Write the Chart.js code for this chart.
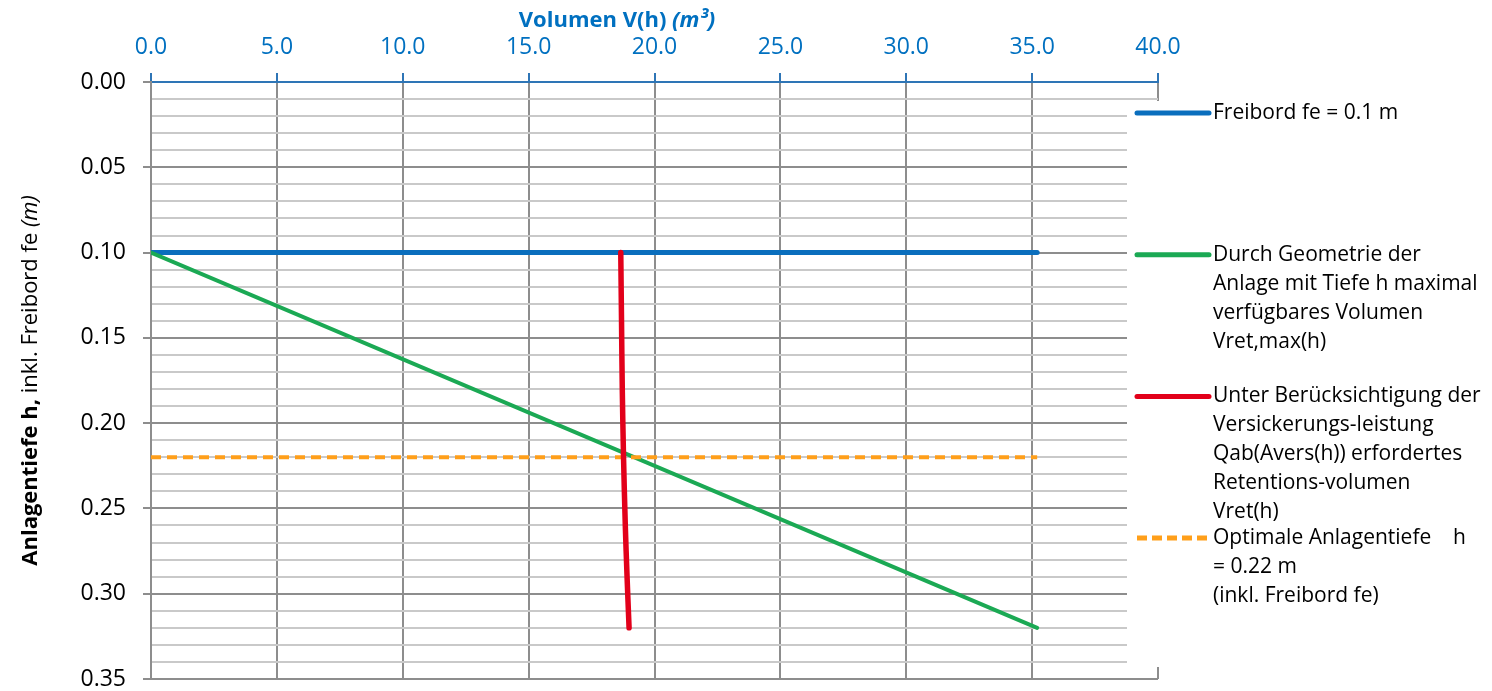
<!DOCTYPE html>
<html>
<head>
<meta charset="utf-8">
<script src="https://cdn.jsdelivr.net/npm/chart.js@4.4.1/dist/chart.umd.min.js"></script>
<style>
  html, body { margin: 0; padding: 0; background: #fff; overflow: hidden; }
  #wrap { position: relative; width: 1492px; height: 691px; }
</style>
</head>
<body>
<div id="wrap"><canvas id="c" width="1492" height="691"></canvas></div>
<script>
// Freibord (freeboard) line
const freibordVolume = [0, 35.2];
const freibordDepth  = [0.10, 0.10];

// Maximum volume available from the geometry, Vret,max(h)
const geomVolume = [0, 35.2];
const geomDepth  = [0.10, 0.32];

// Required retention volume Vret(h) considering infiltration
const retDepth  = [0.10, 0.14, 0.18, 0.22, 0.26, 0.29, 0.32];
const retVolume = [18.66, 18.69, 18.72, 18.77, 18.84, 18.91, 18.99];

// Optimal depth h = 0.22 m
const optVolume = [0, 35.2];
const optDepth  = [0.22, 0.22];

// Axis ranges / tick steps
const volumeRange = [0, 40];
const volumeStep = 5;
const depthRange = [0, 0.35];
const depthMinorStep = 0.01;
const depthMajorEvery = 5; // label every 0.05

// Legend texts (wrapped)
const legendFreibord = ["Freibord fe = 0.1 m"];
const legendGeom = ["Durch Geometrie der", "Anlage mit Tiefe h maximal", "verfügbares Volumen", "Vret,max(h)"];
const legendRet = ["Unter Berücksichtigung der", "Versickerungs-leistung", "Qab(Avers(h)) erfordertes", "Retentions-volumen", "Vret(h)"];
const legendOpt = ["Optimale Anlagentiefe    h", "= 0.22 m", "(inkl. Freibord fe)"];

const toPoints = (xs, ys) => xs.map((x, i) => ({ x: x, y: ys[i] }));

const FONT = "'Open Sans', 'Noto Sans', sans-serif";
const BLUE_TEXT = '#0070C0';
const GRID_MAJOR = '#8d8d8d';
const GRID_MINOR = '#c9c9c9';

const isMajor = v => Math.round(v / depthMinorStep) % depthMajorEvery === 0;

// Axis titles with mixed font styles
const axisTitles = {
  id: 'axisTitles',
  afterDraw(chart) {
    const { ctx, chartArea } = chart;
    const drawRuns = (runs, cx, cy) => {
      let total = 0;
      runs.forEach(r => { ctx.font = r.font; r.w = ctx.measureText(r.text).width; total += r.w; });
      let x = cx - total / 2;
      runs.forEach(r => { ctx.font = r.font; ctx.fillText(r.text, x, cy); x += r.w; });
    };
    ctx.save();
    ctx.textBaseline = 'middle';
    ctx.textAlign = 'left';
    // top axis title
    ctx.fillStyle = BLUE_TEXT;
    drawRuns([
      { text: 'Volumen V(h) ', font: `bold 22px ${FONT}` },
      { text: '(m³)', font: `italic bold 22px ${FONT}` }
    ], 617, 21);
    // left axis title, rotated
    ctx.fillStyle = '#000';
    ctx.translate(31, (chartArea.top + chartArea.bottom) / 2);
    ctx.rotate(-Math.PI / 2);
    drawRuns([
      { text: 'Anlagentiefe h,', font: `bold 22px ${FONT}` },
      { text: ' inkl. Freibord fe ', font: `22px ${FONT}` },
      { text: '(m)', font: `italic 22px ${FONT}` }
    ], 0, 0);
    ctx.restore();
  }
};

// Legend box on the right with wrapped entries
const sideLegend = {
  id: 'sideLegend',
  afterDraw(chart) {
    const { ctx, chartArea } = chart;
    const boxLeft = chartArea.right - 31;
    const boxTop = chartArea.top + 19;
    const boxBottom = chartArea.bottom - 12;
    ctx.save();
    ctx.fillStyle = '#fff';
    ctx.fillRect(boxLeft, boxTop, chart.width - boxLeft, boxBottom - boxTop);

    const entries = [
      { ds: 0, lines: legendFreibord },
      { ds: 1, lines: legendGeom },
      { ds: 2, lines: legendRet },
      { ds: 3, lines: legendOpt }
    ];
    const firstY = chartArea.top + 31;
    const entryStep = 141.7;
    const lineH = 29;
    const sx0 = boxLeft + 10, sx1 = boxLeft + 82, tx = boxLeft + 86;
    ctx.font = `21px ${FONT}`;
    ctx.textBaseline = 'middle';
    ctx.textAlign = 'left';
    entries.forEach((e, i) => {
      const ds = chart.data.datasets[e.ds];
      const y = firstY + i * entryStep;
      ctx.save();
      ctx.strokeStyle = ds.borderColor;
      ctx.lineWidth = 5;
      ctx.lineCap = ds.borderDash ? 'butt' : 'round';
      ctx.setLineDash(ds.borderDash ? [10, 5] : []);
      ctx.beginPath();
      ctx.moveTo(sx0, y);
      ctx.lineTo(sx1, y);
      ctx.stroke();
      ctx.restore();
      ctx.fillStyle = '#000';
      e.lines.forEach((t, k) => ctx.fillText(t, tx, y + k * lineH));
    });
    ctx.restore();
  }
};

new Chart(document.getElementById('c'), {
  type: 'line',
  data: {
    datasets: [
      {
        label: legendFreibord.join(' '),
        data: toPoints(freibordVolume, freibordDepth),
        borderColor: '#0a6ebd', borderWidth: 5, borderCapStyle: 'round',
        pointRadius: 0, order: 3
      },
      {
        label: legendGeom.join(' '),
        data: toPoints(geomVolume, geomDepth),
        borderColor: '#1ba954', borderWidth: 4, borderCapStyle: 'round',
        pointRadius: 0, order: 2
      },
      {
        label: legendRet.join(' '),
        data: toPoints(retVolume, retDepth),
        borderColor: '#e2001a', borderWidth: 5.5, borderCapStyle: 'round',
        pointRadius: 0, tension: 0.3, order: 0
      },
      {
        label: legendOpt.join(' '),
        data: toPoints(optVolume, optDepth),
        borderColor: '#ff9f1a', borderWidth: 4, borderDash: [10, 6],
        pointRadius: 0, order: 1
      }
    ]
  },
  options: {
    responsive: false,
    animation: false,
    events: [],
    layout: { padding: { left: 0, top: 0, right: 334, bottom: 12 } },
    plugins: { legend: { display: false }, tooltip: { enabled: false } },
    scales: {
      x: {
        type: 'linear',
        position: 'top',
        min: volumeRange[0],
        max: volumeRange[1],
        afterFit: s => { s.height = 82; s.paddingLeft = 0; s.paddingRight = 0; },
        ticks: {
          stepSize: volumeStep,
          callback: v => Number(v).toFixed(1),
          color: BLUE_TEXT,
          font: { family: FONT, size: 23 },
          padding: 12
        },
        grid: { color: GRID_MAJOR, lineWidth: 2, tickColor: '#2e75b6', tickLength: 9 },
        border: { display: true, color: '#2e75b6', width: 2 }
      },
      y: {
        type: 'linear',
        reverse: true,
        min: depthRange[0],
        max: depthRange[1],
        afterFit: s => { s.width = 151; s.paddingTop = 0; s.paddingBottom = 0; },
        ticks: {
          stepSize: depthMinorStep,
          autoSkip: false,
          callback: v => isMajor(v) ? Number(v).toFixed(2) : '',
          color: '#000',
          font: { family: FONT, size: 23 },
          padding: 17
        },
        grid: {
          color: c => (Math.round(c.tick.value * 100) === 0 ? '#2e75b6' : (isMajor(c.tick.value) ? GRID_MAJOR : GRID_MINOR)),
          lineWidth: 2,
          tickColor: c => isMajor(c.tick.value) ? GRID_MAJOR : 'rgba(0,0,0,0)',
          tickLength: 8
        },
        border: { display: true, color: GRID_MAJOR, width: 2 }
      }
    }
  },
  plugins: [axisTitles, sideLegend]
});
</script>
</body>
</html>
